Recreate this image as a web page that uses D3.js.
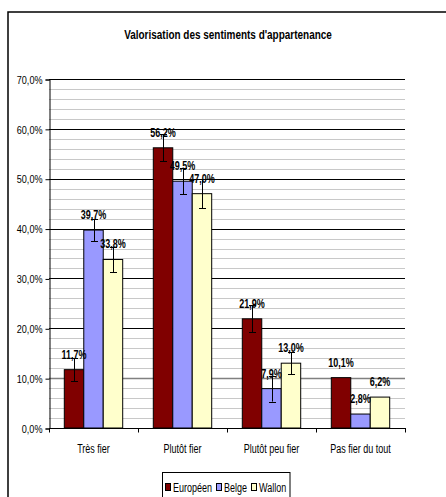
<!DOCTYPE html>
<html><head><meta charset="utf-8">
<script src="https://cdn.jsdelivr.net/npm/d3@7"></script>
<style>
html,body{margin:0;padding:0;background:#fff;}
svg{display:block;}
text{font-family:"Liberation Sans",Arial,sans-serif;}
</style></head>
<body>
<script>
const title = "Valorisation des sentiments d'appartenance";
const categories = ["Très fier", "Plutôt fier", "Plutôt peu fier", "Pas fier du tout"];
const seriesNames = ["Européen", "Belge", "Wallon"];
const europeen = [11.7, 56.2, 21.9, 10.1];
const belge = [39.7, 49.5, 7.9, 2.8];
const wallon = [33.8, 47.0, 13.0, 6.2];
const errEuropeen = [2.3, 2.7, 2.7, null];
const errBelge = [2.2, 2.6, 2.6, null];
const errWallon = [2.6, 2.9, 2.2, null];
const yTicks = [0, 10, 20, 30, 40, 50, 60, 70];
const colors = ["#800000", "#9999FF", "#FFFFCC"];

const W = 446, H = 497;
const svg = d3.select("body").append("svg").attr("width", W).attr("height", H);

// frame
svg.append("path").attr("d", `M8,${H+2}V12H${W+2}`).attr("fill","none").attr("stroke","#000").attr("stroke-width",1.5);

svg.append("text").attr("x", 228).attr("y", 38.5).attr("text-anchor","middle")
  .attr("font-size", 12).attr("font-weight","bold").attr("data-k", 0.83).text(title);

const x0 = d3.scaleBand().domain(categories).range([49, 405]);
const x1 = d3.scaleBand().domain(seriesNames).range([15.3, x0.bandwidth()-15.3]);
const y = d3.scaleLinear().domain([0, 70]).range([428, 79]);

// minor gridlines every 2%
const minor = d3.range(0, 70.001, 2).filter(v => v % 10 !== 0);
svg.append("g").selectAll("line").data(minor).join("line")
  .attr("x1", 49).attr("x2", 405)
  .attr("y1", d => Math.round(y(d))+0.5).attr("y2", d => Math.round(y(d))+0.5)
  .attr("stroke", "#c8c8c8").attr("stroke-width", 1);
// major gridlines
svg.append("g").selectAll("line").data(yTicks.filter(v => v > 0)).join("line")
  .attr("x1", 49).attr("x2", 405)
  .attr("y1", d => Math.round(y(d))+0.5).attr("y2", d => Math.round(y(d))+0.5)
  .attr("stroke", d => d === 10 ? "#808080" : "#000").attr("stroke-width", d => d === 10 ? 1.6 : 1);

// y axis
const yAxis = d3.axisLeft(y).tickValues(yTicks).tickSize(4).tickPadding(3)
  .tickFormat(d => d3.format(".1f")(d).replace(".", ",") + "%");
const ga = svg.append("g").attr("transform", "translate(49.5,0.5)").call(yAxis);
ga.select(".domain").attr("stroke","#000");
ga.selectAll(".tick line").attr("stroke","#000");
ga.selectAll("text").attr("font-size", 11.5).attr("fill","#000").attr("font-family", null).attr("data-k", 0.79);

// bars
const data = [europeen, belge, wallon];
const errs = [errEuropeen, errBelge, errWallon];
const groups = svg.append("g").selectAll("g").data(categories).join("g")
  .attr("transform", d => `translate(${x0(d)},0)`);
groups.each(function(cat, ci) {
  const g = d3.select(this);
  seriesNames.forEach((s, si) => {
    const v = data[si][ci];
    g.append("rect").attr("x", x1(s)).attr("y", y(v)).attr("width", x1.bandwidth()).attr("height", y(0)-y(v))
      .attr("fill", colors[si]).attr("stroke", "#000").attr("stroke-width", 1);
  });
});
// error bars
groups.each(function(cat, ci) {
  const g = d3.select(this);
  seriesNames.forEach((s, si) => {
    const v = data[si][ci], e = errs[si][ci];
    if (e == null) return;
    const cx = Math.round(x1(s) + x1.bandwidth()/2) + 0.5;
    g.append("line").attr("x1", cx).attr("x2", cx).attr("y1", y(v+e)).attr("y2", y(v-e)).attr("stroke","#000");
    [v+e, v-e].forEach(t => g.append("line").attr("x1", cx-3.5).attr("x2", cx+3.5)
      .attr("y1", Math.round(y(t))+0.5).attr("y2", Math.round(y(t))+0.5).attr("stroke","#000"));
  });
});
// value labels
groups.each(function(cat, ci) {
  const g = d3.select(this);
  seriesNames.forEach((s, si) => {
    const v = data[si][ci];
    g.append("text").attr("x", x1(s) + x1.bandwidth()/2).attr("y", y(v) - 11)
      .attr("text-anchor","middle").attr("font-size", 12).attr("font-weight","bold").attr("data-k", 0.75)
      .text(d3.format(".1f")(v).replace(".", ",") + "%");
  });
});

// x axis
const xAxis = d3.axisBottom(x0).tickSize(0).tickPadding(0);
const gx = svg.append("g").attr("transform", "translate(0,428.5)").call(xAxis);
gx.select(".domain").attr("stroke","#000").attr("d", "M49,0H405");
gx.selectAll("text").attr("font-size", 12).attr("fill","#000").attr("font-family", null)
  .attr("dy", 0).attr("y", 24).attr("data-k", 0.75);
svg.append("g").selectAll("line").data(d3.range(5)).join("line")
  .attr("x1", i => Math.round(49 + i*x0.bandwidth())+0.5).attr("x2", i => Math.round(49 + i*x0.bandwidth())+0.5)
  .attr("y1", 428).attr("y2", 432.5).attr("stroke","#000");

// legend
const lg = svg.append("g");
lg.append("rect").attr("x", 162.5).attr("y", 472.5).attr("width", 127.5).attr("height", 40)
  .attr("fill","#fff").attr("stroke","#000");
const legX = [165.5, 216.5, 251.5];
seriesNames.forEach((s, i) => {
  lg.append("rect").attr("x", legX[i]).attr("y", 483.5).attr("width", 5).attr("height", 7)
    .attr("fill", colors[i]).attr("stroke","#000");
  lg.append("text").attr("x", legX[i] + 7.5).attr("y", 491.5).attr("font-size", 12).attr("data-k", 0.75).text(s);
});

// emulate a narrow face: compress every label horizontally
svg.selectAll("text").each(function() {
  const k = +(this.getAttribute("data-k") || 0.82);
  const L = this.getComputedTextLength();
  d3.select(this).attr("textLength", L * k).attr("lengthAdjust", "spacingAndGlyphs");
});
</script>
</body></html>
